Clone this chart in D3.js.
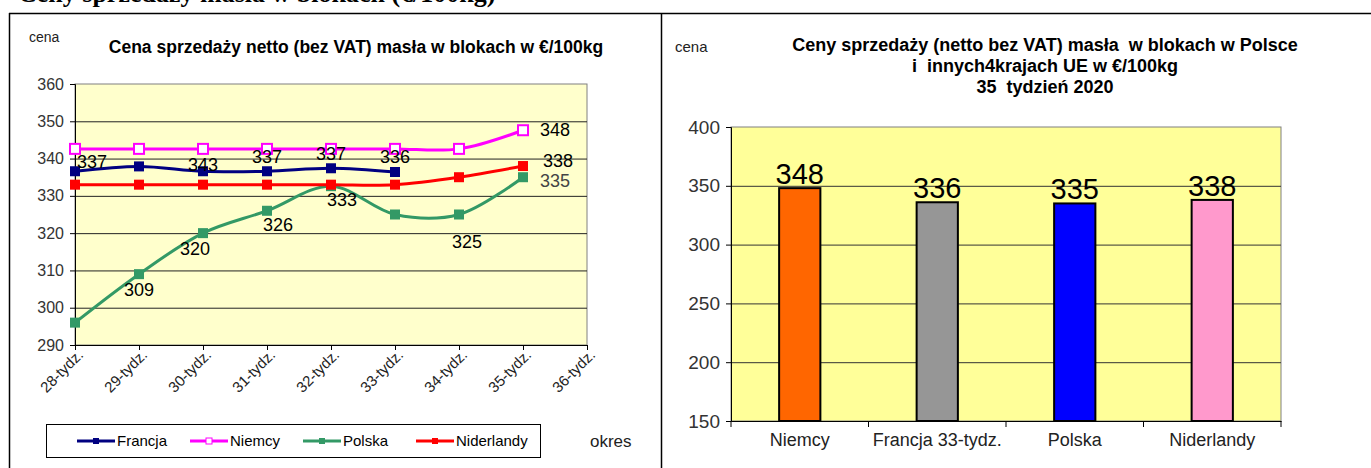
<!DOCTYPE html>
<html>
<head>
<meta charset="utf-8">
<script src="https://cdn.jsdelivr.net/npm/d3@7"></script>
<style>
    body { margin: 0; background: #fff; }
    svg text { font-family: "Liberation Sans Narrow", "Arial Narrow", "Liberation Sans", Arial, sans-serif; }
</style>
</head>
<body>
<svg id="drawing_region"></svg>
<script>
// left chart: weekly prices
const weeks = ['28-tydz.', '29-tydz.', '30-tydz.', '31-tydz.', '32-tydz.', '33-tydz.', '34-tydz.', '35-tydz.', '36-tydz.'];
const francja = [336.6, 337.9, 336.6, 336.6, 337.4, 336.4, null, null, null];
const niemcy = [342.6, 342.6, 342.6, 342.6, 342.6, 342.6, 342.6, 347.6, null];
const polska = [296, 309, 320, 326, 332.6, 325, 325, 335, null];
const niderlandy = [333, 333, 333, 333, 333, 333, 335, 338, null];
const lineTicks = [290, 300, 310, 320, 330, 340, 350, 360];
// data labels shown on the line chart: [series, week index, placement]
const pointLabels = [
    ['Francja', 0, 'aboveRight'], ['Niemcy', 2, 'below'], ['Francja', 3, 'above'],
    ['Francja', 4, 'above'], ['Francja', 5, 'above'],
    ['Niemcy', 7, 'right'], ['Niderlandy', 7, 'rightUp'], ['Polska', 7, 'rightDown'],
    ['Polska', 1, 'below'], ['Polska', 2, 'belowLeft'], ['Polska', 3, 'belowRight'],
    ['Polska', 4, 'belowRight'], ['Polska', 6, 'belowFar']
];

// right chart: week 35
const barCountries = ['Niemcy', 'Francja 33-tydz.', 'Polska', 'Niderlandy'];
const barValues = [348, 336, 335, 338];
const barTicks = [150, 200, 250, 300, 350, 400];

const svg = d3.select('#drawing_region')
    .attr('width', 1371)
    .attr('height', 468);

svg.append('rect').attr('width', 1371).attr('height', 468).attr('fill', '#fff');

// heading above the table (cut by the page edge, as in the source)
svg.append('text')
    .attr('x', 18).attr('y', 2)
    .style('font-family', '"Liberation Serif", "Times New Roman", serif')
    .style('font-weight', 'bold')
    .style('font-size', '26px')
    .text('Ceny sprzedaży masła w blokach (€/100kg)');

// table frame
svg.append('line').attr('x1', 9).attr('x2', 1371).attr('y1', 13.5).attr('y2', 13.5).attr('stroke', '#000').attr('stroke-width', 1.5);
svg.append('line').attr('x1', 9.5).attr('x2', 9.5).attr('y1', 13).attr('y2', 468).attr('stroke', '#000').attr('stroke-width', 1.5);
svg.append('line').attr('x1', 661.5).attr('x2', 661.5).attr('y1', 13).attr('y2', 468).attr('stroke', '#000').attr('stroke-width', 1.5);

// ---------------- line chart ----------------
const series = [
    { name: 'Francja', values: francja, color: '#000080', hollow: false },
    { name: 'Niemcy', values: niemcy, color: '#ff00ff', hollow: true },
    { name: 'Polska', values: polska, color: '#339966', hollow: false },
    { name: 'Niderlandy', values: niderlandy, color: '#ff0000', hollow: false }
];

const xL = d3.scalePoint().domain(weeks).range([75, 587]);
const yL = d3.scaleLinear().domain([290, 360]).range([345, 84]);

const left = svg.append('g');

left.append('text').attr('x', 29).attr('y', 42).style('font-size', '14px').attr('fill', '#222').text('cena');
left.append('text')
    .attr('x', 356).attr('y', 53)
    .attr('text-anchor', 'middle')
    .style('font-size', '17.5px')
    .style('font-weight', 'bold')
    .text('Cena sprzedaży netto (bez VAT) masła w blokach w €/100kg');

left.append('rect')
    .attr('x', xL.range()[0]).attr('y', yL(360))
    .attr('width', xL.range()[1] - xL.range()[0]).attr('height', yL(290) - yL(360))
    .attr('fill', '#ffffcc')
    .attr('stroke', '#808080');

left.append('g')
    .selectAll('line')
    .data(lineTicks.slice(1, -1))
    .join('line')
    .attr('x1', xL.range()[0]).attr('x2', xL.range()[1])
    .attr('y1', d => yL(d) + 0.5).attr('y2', d => yL(d) + 0.5)
    .attr('stroke', '#222');

const yAxisL = left.append('g')
    .attr('transform', `translate(${xL.range()[0]},0)`)
    .call(d3.axisLeft(yL).tickValues(lineTicks).tickSize(5).tickPadding(6));
yAxisL.selectAll('text').style('font-size', '16px').attr('fill', '#333');

const xAxisL = left.append('g')
    .attr('transform', `translate(0,${yL(290)})`)
    .call(d3.axisBottom(xL).tickSize(5).tickSizeOuter(0));
xAxisL.selectAll('text')
    .style('font-size', '15px')
    .attr('fill', '#222')
    .attr('text-anchor', 'end')
    .attr('transform', 'translate(5,7) rotate(-45)')
    .attr('dy', '0.35em')
    .attr('y', 0).attr('x', 0);

const line = d3.line()
    .defined(d => d != null)
    .x((d, i) => xL(weeks[i]))
    .y(d => yL(d))
    .curve(d3.curveCatmullRom.alpha(0.5));

series.forEach(s => {
    const g = left.append('g');
    g.append('path')
        .attr('d', line(s.values))
        .attr('fill', 'none')
        .attr('stroke', s.color)
        .attr('stroke-width', 3);
    g.selectAll('rect')
        .data(s.values.map((v, i) => ({ v, i })).filter(d => d.v != null))
        .join('rect')
        .attr('x', d => xL(weeks[d.i]) - 5)
        .attr('y', d => yL(d.v) - 5)
        .attr('width', 10).attr('height', 10)
        .attr('fill', s.hollow ? '#fff' : s.color)
        .attr('stroke', s.color)
        .attr('stroke-width', s.hollow ? 2 : 0);
});

const placements = {
    above: [0, -15], aboveRight: [17, -10], below: [0, 16], belowLeft: [-8, 16],
    belowRight: [11, 14], belowFar: [8, 27], right: [32, -1], rightUp: [35, -5], rightDown: [32, 3]
};
left.append('g')
    .selectAll('text')
    .data(pointLabels)
    .join('text')
    .attr('x', d => xL(weeks[d[1]]) + placements[d[2]][0])
    .attr('y', d => yL(series.find(s => s.name === d[0]).values[d[1]]) + placements[d[2]][1])
    .attr('dy', '0.35em')
    .attr('text-anchor', 'middle')
    .style('font-size', '18px')
    .attr('fill', d => d[0] === 'Polska' && d[1] === 7 ? '#444' : '#000')
    .text(d => Math.round(series.find(s => s.name === d[0]).values[d[1]]));

// legend
const legend = left.append('g');
legend.append('rect')
    .attr('x', 46.5).attr('y', 424.5).attr('width', 494).attr('height', 33)
    .attr('fill', '#fff').attr('stroke', '#000');
const item = legend.selectAll('g')
    .data(series)
    .join('g')
    .attr('transform', (d, i) => `translate(${77 + i * 113},441)`);
item.append('line')
    .attr('x1', 0).attr('x2', 38)
    .attr('stroke', d => d.color).attr('stroke-width', 3);
item.append('rect')
    .attr('x', 16).attr('y', -3).attr('width', 6).attr('height', 6)
    .attr('fill', d => d.hollow ? '#fff' : d.color)
    .attr('stroke', d => d.color)
    .attr('stroke-width', d => d.hollow ? 1 : 0);
item.append('text')
    .attr('x', 40).attr('dy', '0.35em')
    .style('font-size', '15px')
    .text(d => d.name);

left.append('text').attr('x', 590).attr('y', 447).style('font-size', '17px').attr('fill', '#222').text('okres');

// ---------------- bar chart ----------------
const xR = d3.scaleBand().domain(barCountries).range([731, 1281]);
const yR = d3.scaleLinear().domain([150, 400]).range([421, 127]);
const barColors = ['#ff6600', '#969696', '#0000ff', '#ff99cc'];

const right = svg.append('g');

right.append('text').attr('x', 675).attr('y', 52).style('font-size', '15px').attr('fill', '#222').text('cena');
right.append('text')
    .attr('x', 1045).attr('y', 51)
    .attr('text-anchor', 'middle')
    .style('font-size', '18px')
    .style('font-weight', 'bold')
    .selectAll('tspan')
    .data(['Ceny sprzedaży (netto bez VAT) masła  w blokach w Polsce', 'i  innych4krajach UE w €/100kg', '35  tydzień 2020'])
    .join('tspan')
    .attr('x', 1045)
    .attr('dy', (d, i) => i === 0 ? 0 : 21)
    .style('white-space', 'pre')
    .text(d => d);

right.append('rect')
    .attr('x', 731).attr('y', yR(400))
    .attr('width', 550).attr('height', yR(150) - yR(400))
    .attr('fill', '#ffff99')
    .attr('stroke', '#808080');

right.append('g')
    .selectAll('line')
    .data(barTicks.slice(1, -1))
    .join('line')
    .attr('x1', 731).attr('x2', 1281)
    .attr('y1', d => yR(d) + 0.5).attr('y2', d => yR(d) + 0.5)
    .attr('stroke', '#333');

const yAxisR = right.append('g')
    .attr('transform', 'translate(731,0)')
    .call(d3.axisLeft(yR).tickValues(barTicks).tickSize(5).tickPadding(6));
yAxisR.selectAll('text').style('font-size', '19px').attr('fill', '#333');

const xAxisR = right.append('g')
    .attr('transform', `translate(0,${yR(150)})`)
    .call(d3.axisBottom(xR).tickSize(0).tickPadding(12));
xAxisR.selectAll('text').style('font-size', '18px').attr('fill', '#222');
xAxisR.selectAll('.sep')
    .data(d3.range(barCountries.length + 1))
    .join('line')
    .attr('x1', i => 731 + i * xR.step()).attr('x2', i => 731 + i * xR.step())
    .attr('y1', 0).attr('y2', 6)
    .attr('stroke', '#000');

const barW = xR.bandwidth() * 0.3;
right.append('g')
    .selectAll('rect')
    .data(barValues)
    .join('rect')
    .attr('x', (d, i) => xR(barCountries[i]) + (xR.bandwidth() - barW) / 2)
    .attr('y', d => yR(d))
    .attr('width', barW)
    .attr('height', d => yR(150) - yR(d))
    .attr('fill', (d, i) => barColors[i])
    .attr('stroke', '#000')
    .attr('stroke-width', 2);

right.append('g')
    .selectAll('text')
    .data(barValues)
    .join('text')
    .attr('x', (d, i) => xR(barCountries[i]) + xR.bandwidth() / 2)
    .attr('y', d => yR(d) - 4)
    .attr('text-anchor', 'middle')
    .style('font-size', '29px')
    .text(d => d);
</script>
</body>
</html>
